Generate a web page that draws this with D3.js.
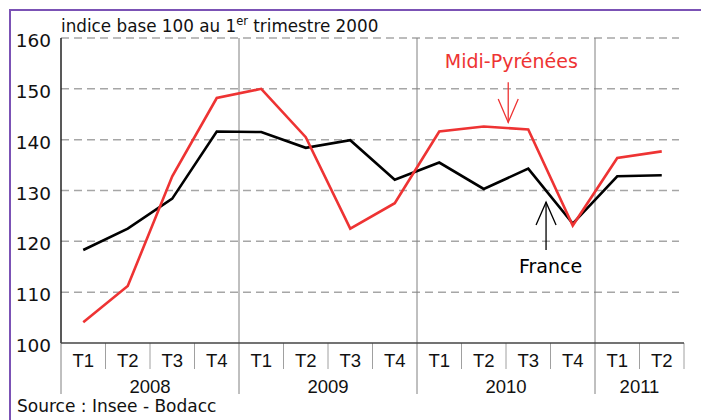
<!DOCTYPE html>
<html>
<head>
<meta charset="utf-8">
<script src="https://cdn.jsdelivr.net/npm/d3@7"></script>
<style>
  body { margin: 0; background: #fff; }
  svg { display: block; }
</style>
</head>
<body>
<script>
// data
let quarters = ["T1", "T2", "T3", "T4", "T1", "T2", "T3", "T4", "T1", "T2", "T3", "T4", "T1", "T2"];
let yearLabels = ["2008", "2009", "2010", "2011"];
let quartersPerYear = [4, 4, 4, 2];
let midiPyrenees = [104.1, 111.2, 132.8, 148.2, 150.0, 140.5, 122.5, 127.5, 141.6, 142.6, 142.0, 123.1, 136.4, 137.7];
let france = [118.3, 122.5, 128.4, 141.6, 141.5, 138.4, 139.9, 132.1, 135.5, 130.3, 134.3, 123.5, 132.8, 133.0];
let yTicks = [100, 110, 120, 130, 140, 150, 160];

let width = 701, height = 420;
let margin = { top: 38, left: 61, right: 17, bottom: 77 };

let svg = d3.select("body").append("svg")
    .attr("width", width)
    .attr("height", height);

// purple frame
svg.append("path")
    .attr("d", "M10,430V10H720")
    .attr("fill", "none")
    .attr("stroke", "#7b52b5")
    .attr("stroke-width", 2);

let x = d3.scaleBand()
    .domain(d3.range(quarters.length))
    .range([margin.left, width - margin.right])
    .padding(0);

// fractional quarter position, used for annotations
let xi = d3.scaleLinear()
    .domain([0, quarters.length])
    .range([margin.left, width - margin.right]);

let y = d3.scaleLinear()
    .domain([100, 160])
    .range([height - margin.bottom, margin.top]);

let y0 = y(100);

// dashed grid
svg.append("g")
    .selectAll("line")
    .data(yTicks.filter(d => d > 100))
    .enter().append("line")
    .attr("x1", margin.left)
    .attr("x2", width - margin.right - 5)
    .attr("y1", d => y(d))
    .attr("y2", d => y(d))
    .attr("stroke", "#a6a6a6")
    .attr("stroke-width", 1.5)
    .attr("stroke-dasharray", "8,5");

// year separators
let yearStarts = [0];
quartersPerYear.forEach((n, i) => yearStarts.push(yearStarts[i] + n));

svg.append("g")
    .selectAll("line")
    .data(yearStarts.slice(0, -1))
    .enter().append("line")
    .attr("x1", d => xi(d))
    .attr("x2", d => xi(d))
    .attr("y1", d => d === 0 ? y0 : margin.top)
    .attr("y2", y0 + 51)
    .attr("stroke", "#808080")
    .attr("stroke-width", 1);

// quarter ticks
svg.append("g")
    .selectAll("line")
    .data(d3.range(1, quarters.length + 1).filter(d => yearStarts.indexOf(d) < 0 || d === quarters.length))
    .enter().append("line")
    .attr("x1", d => xi(d))
    .attr("x2", d => xi(d))
    .attr("y1", y0)
    .attr("y2", y0 + 26)
    .attr("stroke", "#a0a0a0")
    .attr("stroke-width", 1);

// axes lines
svg.append("line")
    .attr("x1", margin.left).attr("x2", margin.left)
    .attr("y1", margin.top).attr("y2", y0)
    .attr("stroke", "#222").attr("stroke-width", 1.5);
svg.append("line")
    .attr("x1", margin.left).attr("x2", width - margin.right)
    .attr("y1", y0).attr("y2", y0)
    .attr("stroke", "#444").attr("stroke-width", 1.5);

// y labels
svg.append("g")
    .selectAll("text")
    .data(yTicks)
    .enter().append("text")
    .attr("x", margin.left - 10)
    .attr("y", d => y(d) + 9)
    .attr("text-anchor", "end")
    .attr("font-family", "DejaVu Sans")
    .attr("font-size", 18.5)
    .attr("fill", "#111")
    .text(d => d);

// quarter labels
svg.append("g")
    .selectAll("text")
    .data(quarters)
    .enter().append("text")
    .attr("x", (d, i) => x(i) + x.bandwidth() / 2)
    .attr("y", y0 + 24)
    .attr("text-anchor", "middle")
    .attr("font-family", "Liberation Sans, Arial")
    .attr("font-size", 18.5)
    .attr("fill", "#111")
    .text(d => d);

// year labels
svg.append("g")
    .selectAll("text")
    .data(yearLabels)
    .enter().append("text")
    .attr("x", (d, i) => (xi(yearStarts[i]) + xi(yearStarts[i + 1])) / 2)
    .attr("y", y0 + 50)
    .attr("text-anchor", "middle")
    .attr("font-family", "Liberation Sans, Arial")
    .attr("font-size", 18.5)
    .attr("fill", "#111")
    .text(d => d);

// lines
let line = d3.line()
    .x((d, i) => x(i) + x.bandwidth() / 2)
    .y(d => y(d));

svg.append("path")
    .datum(france)
    .attr("d", line)
    .attr("fill", "none")
    .attr("stroke", "#000")
    .attr("stroke-width", 2.6);

svg.append("path")
    .datum(midiPyrenees)
    .attr("d", line)
    .attr("fill", "none")
    .attr("stroke", "#ee3333")
    .attr("stroke-width", 2.6);

// annotations
function arrow(cx, vTail, vTip, vWing, color) {
    let g = svg.append("g")
        .attr("fill", "none")
        .attr("stroke", color)
        .attr("stroke-width", 1.3);
    g.append("line")
        .attr("x1", xi(cx)).attr("x2", xi(cx))
        .attr("y1", y(vTail)).attr("y2", y(vTip));
    g.append("path")
        .attr("d", "M" + (xi(cx) - 10) + "," + y(vWing) + "L" + xi(cx) + "," + y(vTip) + "L" + (xi(cx) + 10) + "," + y(vWing));
}
arrow(10.05, 151.3, 143.4, 148.0, "#ee3333");
arrow(10.9, 118.3, 127.7, 123.2, "#000");

svg.append("text")
    .attr("x", xi(10.12))
    .attr("y", y(154.1))
    .attr("text-anchor", "middle")
    .attr("font-family", "DejaVu Sans")
    .attr("font-size", 19)
    .attr("fill", "#ee3333")
    .text("Midi-Pyrénées");

svg.append("text")
    .attr("x", xi(11.0))
    .attr("y", y(113.8))
    .attr("text-anchor", "middle")
    .attr("font-family", "DejaVu Sans")
    .attr("font-size", 19)
    .attr("fill", "#000")
    .text("France");

// title
let title = svg.append("text")
    .attr("x", margin.left)
    .attr("y", 32)
    .attr("font-family", "DejaVu Sans")
    .attr("font-size", 16.8)
    .attr("fill", "#111");
title.append("tspan").text("indice base 100 au 1");
title.append("tspan").attr("font-size", 11.5).attr("dy", -7).text("er");
title.append("tspan").attr("dy", 7).text(" trimestre 2000");

// source
svg.append("text")
    .attr("x", 17)
    .attr("y", 412)
    .attr("font-family", "DejaVu Sans")
    .attr("font-size", 17)
    .attr("fill", "#111")
    .text("Source : Insee - Bodacc");
</script>
</body>
</html>
